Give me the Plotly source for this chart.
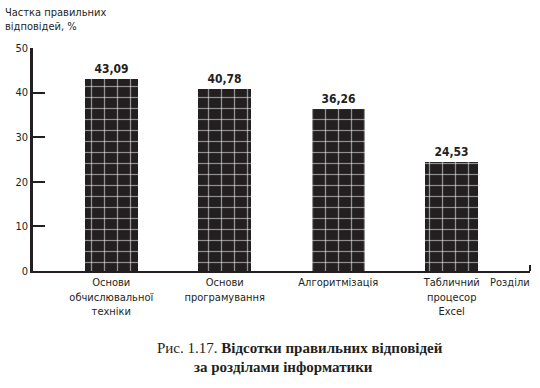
import plotly.graph_objects as go

categories = ["Основи<br>обчислювальної<br>техніки", "Основи<br>програмування",
              "Алгоритмізація", "Табличний<br>процесор<br>Excel"]
values = [43.09, 40.78, 36.26, 24.53]
value_labels = ["43,09", "40,78", "36,26", "24,53"]
y_ticks = [0, 10, 20, 30, 40, 50]

narrow = "Liberation Sans Narrow, DejaVu Sans Condensed, Arial Narrow, sans-serif"
serif = "Liberation Serif, DejaVu Serif, serif"
ink = "#231f20"

x = list(range(len(categories)))

fig = go.Figure()
# black bars with vertical white lines
fig.add_trace(go.Bar(
    x=x, y=values, width=0.47,
    marker=dict(color=ink, line=dict(width=0),
                pattern=dict(shape="|", fgcolor="white", size=13, solidity=0.1,
                             fillmode="overlay")),
    text=value_labels, textposition="outside",
    textfont=dict(family=narrow, size=12, color=ink),
    texttemplate="<b>%{text}</b>", cliponaxis=False,
    hoverinfo="skip",
))
# horizontal white lines overlaid (plaid)
fig.add_trace(go.Bar(
    x=x, y=values, width=0.47,
    marker=dict(color="rgba(0,0,0,0)", line=dict(width=0),
                pattern=dict(shape="-", fgcolor="white", size=11, solidity=0.11,
                             fillmode="overlay")),
    hoverinfo="skip",
))

fig.update_layout(
    width=540, height=388,
    margin=dict(l=33, r=10, t=48, b=117),
    plot_bgcolor="white", paper_bgcolor="white",
    showlegend=False, bargap=0, barmode="overlay",
    font=dict(family=narrow, size=11, color=ink),
)
fig.update_xaxes(
    range=[-0.69, 3.69], tickmode="array", tickvals=x, ticktext=categories,
    showline=True, linecolor=ink, linewidth=2, ticks="", showgrid=False,
    zeroline=False, tickfont=dict(family=narrow, size=11, color=ink),
)
fig.update_yaxes(
    range=[0, 50], tickvals=y_ticks, showline=True, linecolor=ink, linewidth=2.5,
    ticks="inside", ticklen=12, tickwidth=2, tickcolor=ink, showgrid=False,
    zeroline=False, tickfont=dict(family=narrow, size=11, color=ink),
)

fig.add_annotation(xref="paper", yref="paper", x=-30/497, y=1 + 44/223,
                   xanchor="left", yanchor="top", align="left", showarrow=False,
                   text="Частка правильних<br>відповідей, %",
                   font=dict(family=narrow, size=11, color=ink))
fig.add_annotation(xref="paper", yref="paper", x=1.005, y=-11/223,
                   xanchor="right", yanchor="middle", showarrow=False,
                   text="Розділи", font=dict(family=narrow, size=11, color=ink))
fig.add_shape(type="line", xref="paper", yref="paper", x0=1, x1=1,
              y0=0, y1=6/223, line=dict(color=ink, width=2))
fig.add_annotation(xref="paper", yref="paper", x=(300-33)/497, y=-(348-271)/223,
                   xanchor="center", yanchor="middle", showarrow=False,
                   text="Рис. 1.17. <b>Відсотки правильних відповідей</b>",
                   font=dict(family=serif, size=15, color=ink))
fig.add_annotation(xref="paper", yref="paper", x=(283-33)/497, y=-(367-271)/223,
                   xanchor="center", yanchor="middle", showarrow=False,
                   text="<b>за розділами інформатики</b>",
                   font=dict(family=serif, size=15, color=ink))

fig.write_html("out.html")
